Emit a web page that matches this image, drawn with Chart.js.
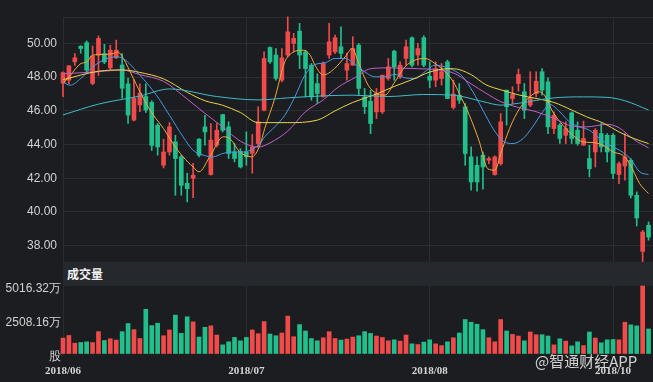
<!DOCTYPE html>
<html><head><meta charset="utf-8">
<script src="https://cdn.jsdelivr.net/npm/chart.js@4.4.1/dist/chart.umd.min.js"></script>
<style>
html,body{margin:0;padding:0;background:#1b1d21;width:653px;height:382px;overflow:hidden;}
#wrap{position:relative;width:653px;height:382px;}
#band{position:absolute;left:63px;top:262px;width:590px;height:24px;background:#25282d;}
#bandTitle{position:absolute;left:67px;top:266px;font:bold 12px "Noto Sans CJK SC",sans-serif;color:#f2f2f2;line-height:16px;}
#wm{position:absolute;left:535px;top:351px;font:15px "Noto Sans CJK SC",sans-serif;color:rgba(235,235,235,0.88);line-height:20px;}
#c1{position:absolute;left:0;top:0;}
#c2{position:absolute;left:0;top:262px;}
</style></head>
<body><div id="wrap">
<div id="band"></div><div id="bandTitle">成交量</div>
<canvas id="c1" width="653" height="262"></canvas>
<canvas id="c2" width="653" height="120"></canvas>
<div id="wm">@智通财经APP</div>
</div>
<script>
// ---- data ----
const xTickPositions = [0, 31, 62, 93];
const xTickLabels = ['2018/06', '2018/07', '2018/08', '2018/10'];
const priceTicks = [38, 40, 42, 44, 46, 48, 50];
const priceMin = 37.03, priceMax = 51.57;
const volumeTicks = [0, 2508.16, 5016.32];
const volumeUnitLabel = '股';

const openP = [47.64,47.82,48.91,49.84,50.05,47.63,49.30,49.40,48.55,49.15,48.72,47.60,45.45,46.35,46.85,46.50,45.15,42.77,43.56,44.16,
43.27,41.70,42.00,44.32,45.05,42.22,43.96,45.78,45.05,43.56,43.60,43.56,43.48,44.06,46.04,49.76,49.31,47.82,49.31,50.00,
50.73,49.50,48.71,47.62,46.83,49.31,49.50,49.80,48.42,48.71,49.90,46.83,46.57,45.94,45.94,47.92,49.54,48.02,49.11,50.34,
49.31,50.34,48.06,47.82,47.92,48.91,46.20,46.93,46.24,43.27,42.77,43.37,43.07,42.22,42.87,47.23,46.73,47.62,47.13,46.34,
47.03,48.32,47.72,44.95,45.15,44.55,45.88,44.85,43.96,43.17,43.56,44.65,44.55,44.55,42.22,42.73,43.07,40.99,37.66,39.21];
const highP = [48.32,48.70,49.40,49.86,50.15,49.85,50.45,49.95,49.90,50.20,49.40,47.95,47.85,47.60,47.60,46.60,45.25,44.32,45.30,44.55,
43.37,42.30,42.88,44.36,45.74,45.25,45.25,45.80,45.35,44.06,43.76,44.75,44.60,46.24,49.50,49.80,49.70,49.70,51.58,50.60,
51.19,49.60,48.81,48.20,48.91,51.19,50.50,50.99,49.41,50.40,50.00,47.33,47.23,47.33,48.12,49.11,49.60,48.91,50.20,50.40,
50.00,50.46,48.91,48.91,48.81,49.01,47.82,47.62,46.44,43.86,43.27,43.56,43.27,43.33,45.84,47.23,47.43,48.48,47.62,48.32,
48.32,48.51,47.96,45.94,45.25,45.35,45.94,45.35,45.39,43.96,44.95,45.25,44.65,44.65,42.97,44.65,43.17,41.19,38.91,39.41];
const lowP = [46.84,47.60,48.70,49.42,48.30,47.55,48.10,48.80,48.45,49.10,46.75,45.25,45.40,45.95,45.90,43.65,43.37,42.61,43.37,40.99,
40.99,40.60,40.85,43.27,43.96,42.18,43.86,44.75,43.17,42.97,42.61,42.77,42.30,43.86,46.00,48.81,47.82,47.72,49.20,49.50,
48.51,46.83,46.63,46.44,46.83,49.11,49.40,49.11,47.82,48.71,46.93,45.84,44.65,45.54,45.84,47.82,47.82,47.92,48.71,48.61,
48.71,48.61,47.37,47.43,47.53,46.73,46.10,46.44,42.77,41.29,41.23,41.35,42.87,42.18,42.77,45.15,46.44,47.17,45.54,46.24,
46.83,46.93,44.65,44.65,44.06,44.06,44.06,43.96,43.96,42.08,42.67,43.56,42.97,41.98,41.68,41.88,40.83,39.17,37.03,38.32];
const closeP = [48.27,48.67,49.15,49.70,48.42,49.25,50.30,48.90,49.60,49.60,47.34,45.75,46.75,47.05,46.05,43.95,43.86,43.56,45.05,43.17,
41.58,41.38,42.18,43.37,44.75,44.26,44.85,44.85,43.47,43.17,42.67,43.27,43.85,45.35,49.11,48.91,47.92,49.15,50.69,50.30,
49.31,48.51,46.83,47.03,48.81,50.10,50.34,49.41,48.81,49.70,47.33,46.24,45.25,47.03,48.12,48.61,48.61,48.71,49.80,48.71,
49.70,48.71,47.82,48.51,48.32,46.73,47.00,46.63,43.47,41.78,41.78,42.67,43.17,43.27,45.35,46.24,46.97,48.16,46.04,46.73,
47.76,47.23,45.05,45.74,44.36,44.95,44.36,44.06,44.36,42.57,44.85,43.86,43.56,42.28,42.87,43.27,40.99,39.64,38.81,38.51];
const volume = [1147,1343,769,815,868,815,1622,966,1094,996,1622,2225,1773,1117,3281,2074,2248,1320,1750,2851,
1494,2731,2353,1222,1946,2052,1373,641,868,1192,943,1192,1750,1471,2376,1448,1320,1524,2776,1245,
2150,1675,1117,943,1169,1622,1117,996,1071,1222,1320,1622,1494,1297,1192,943,1018,920,1373,717,
664,845,1018,717,588,868,1169,1524,2527,2323,2173,1773,1169,868,2527,1675,1418,1297,943,1599,
1396,1396,1297,641,1094,920,566,868,588,1599,1147,792,1018,1041,1018,2323,2127,2052,5016.32,1825];

const ma5 = [[0,47.62],[1.2,48.1],[3,48.8],[4,48.9],[5,49.3],[6.8,49.35],[8.5,49.4],[9.2,49.5],[10.2,49.11],[11.9,47.92],[13.6,46.73],[15.3,45.74],[17,44.95],[18.6,44.06],[20.3,43.27],[22,42.67],[23,42.38],[24.8,43.27],[27.1,44.46],[28.2,44.36],[29.9,43.56],[31.9,43.27],[33.3,43.96],[34.1,44.95],[35.8,46.73],[37.5,48.91],[38.6,49.41],[40.6,49.6],[41.8,49.3],[42.6,48.71],[44,48.13],[45.9,48.51],[47.7,49.21],[48.9,49.7],[49.9,48.91],[51.6,47.52],[53.2,47.0],[54.4,46.93],[56.1,47.72],[57.8,48.61],[59.5,49.01],[61.2,49.11],[62.9,48.81],[64.6,48.32],[66,47.72],[67,47.03],[68.7,45.74],[70.4,44.16],[71.8,42.57],[73,42.48],[74.1,43.56],[75.5,44.95],[77.2,46.14],[78.9,46.83],[80.5,47.13],[81.4,46.93],[82.8,45.94],[84.5,45.15],[86.2,44.55],[87.9,44.16],[89.6,44.12],[91.3,43.96],[93,43.56],[94.6,43.37],[95.8,42.87],[97.5,41.68],[99,41.09]];
const ma10 = [[0,47.72],[1.2,47.52],[3,47.92],[5,48.6],[7.4,49.1],[9,49.2],[10.2,49.1],[13,48.12],[15.8,46.93],[18,45.74],[20.3,44.46],[22,43.66],[23.7,43.37],[25.4,43.27],[27,43.47],[28.8,43.56],[30.5,43.56],[32.2,43.76],[33.3,44.06],[34.1,44.46],[35.8,45.05],[37.5,45.74],[39.2,46.83],[40.9,48.12],[42.6,48.75],[44.3,48.85],[46,49.11],[47.7,49.11],[49.4,48.75],[51,48.32],[52.7,48.02],[54.4,48.02],[56.1,48.16],[57.8,47.96],[59.5,47.92],[61.2,48.32],[62.9,48.71],[64.6,48.61],[66,48.42],[67.6,48.02],[69.3,47.13],[71,46.04],[72.7,44.95],[74.4,44.2],[76.1,44.06],[77.8,44.36],[79.4,45.05],[81.1,45.94],[82.3,46.38],[84,45.94],[85.6,45.35],[87.3,45.05],[89,44.85],[90.7,44.36],[92.4,43.96],[94.1,43.66],[95.9,43.17],[97.5,42.38],[99,42.22]];
const ma20 = [[0,48.2],[5,48.3],[10,48.42],[13,48.15],[17,47.75],[21,46.7],[24,45.85],[27,45.05],[30,44.2],[33,43.85],[35,44.1],[38,44.8],[41,45.95],[44,46.65],[46.5,47.4],[49.5,48.0],[52,48.5],[55,48.55],[60,48.5],[63,48.45],[66,48.25],[69,47.6],[71.5,47.05],[74,46.55],[77,46.2],[80,45.95],[83,45.55],[86,45.1],[88.5,45.05],[92,45.2],[94,45.0],[96.5,44.3],[99,43.8]];
const ma30 = [[0,47.85],[6,48.35],[10,48.43],[13,48.28],[17,47.9],[21,47.1],[24,46.6],[27,46.33],[30,45.9],[33,45.3],[38,45.3],[43,45.45],[46,46.0],[49,46.5],[53,47.0],[56,47.45],[59,47.85],[62,48.3],[65,48.5],[66,48.5],[69,48.15],[71.5,47.55],[74,47.25],[77,46.95],[80.5,46.7],[83,46.5],[86,46.05],[88.5,45.65],[91.5,45.25],[94,44.75],[96.5,44.36],[99,44.06]];
const ma60 = [[0,45.76],[6,46.4],[13,46.88],[18,47.3],[26,46.85],[33,46.65],[38,46.77],[44,46.89],[49,46.93],[55,46.85],[61,46.97],[66,46.93],[71,46.55],[74,46.34],[77,46.45],[83,46.77],[88,46.83],[92,46.8],[95,46.6],[99,46.05]];

// ---- styles ----
const UP = '#f04a4a', DOWN = '#21bf8b', GRID = '#2a2d33', LABEL = '#d2d2d2';
const MA_COLORS = {ma5:'#f3a83c', ma10:'#4a98e6', ma20:'#c260c9', ma30:'#e9d54a', ma60:'#3fbccb'};
const xMax = 99.75;

const idx = closeP.map((_, i) => i);
const candleColor = idx.map(i => closeP[i] >= openP[i] ? UP : DOWN);

function fixX(s){ s.ticks = xTickPositions.map(v => ({value: v})); }
function lineDs(arr, color){
  return {type:'line', data: arr.map(p => ({x:p[0], y:p[1]})), borderColor: color, borderWidth: 1,
    pointRadius: 0, cubicInterpolationMode: 'monotone', fill: false, order: 1};
}

new Chart(document.getElementById('c1'), {
  type: 'bar',
  data: { datasets: [
    {data: idx.map(i => ({x:i, y:[lowP[i], highP[i]]})), backgroundColor: candleColor, barThickness: 1,
     grouped: false, order: 3, clip: false, borderWidth: 0},
    {data: idx.map(i => ({x:i, y:[openP[i], closeP[i]]})), backgroundColor: candleColor, barThickness: 4,
     grouped: false, order: 2, clip: false, borderWidth: 0, minBarLength: 1},
    lineDs(ma60, MA_COLORS.ma60), lineDs(ma30, MA_COLORS.ma30), lineDs(ma20, MA_COLORS.ma20),
    lineDs(ma10, MA_COLORS.ma10), lineDs(ma5, MA_COLORS.ma5)
  ]},
  options: {
    responsive: false, animation: false, events: [],
    layout: {padding: {top: 17, right: 0, bottom: 0, left: 0}},
    plugins: {legend: {display: false}, tooltip: {enabled: false}},
    scales: {
      x: {type: 'linear', min: 0, max: xMax, offset: false,
        grid: {color: GRID, drawTicks: false, offset: false}, border: {display: false},
        ticks: {display: false},
        afterBuildTicks: fixX,
        afterFit: s => { s.height = 0; s.paddingLeft = 0; s.paddingRight = 0; }},
      y: {type: 'linear', min: priceMin, max: priceMax, beginAtZero: false,
        grid: {color: GRID, drawTicks: false}, border: {display: true, color: GRID},
        ticks: {color: LABEL, padding: 6, font: {size: 12, family: 'Liberation Sans, Arial'},
          callback: v => priceTicks.includes(v) ? v.toFixed(2) : ''},
        afterBuildTicks: s => { s.ticks = priceTicks.concat([priceMax]).map(v => ({value: v})); },
        afterFit: s => { s.width = 63; s.paddingTop = 0; s.paddingBottom = 0; }}
    }
  }
});

new Chart(document.getElementById('c2'), {
  type: 'bar',
  data: { datasets: [
    {data: idx.map(i => ({x:i, y:volume[i]})), backgroundColor: candleColor, barThickness: 4,
     grouped: false, clip: false, borderWidth: 0}
  ]},
  options: {
    responsive: false, animation: false, events: [],
    layout: {padding: {top: 24, right: 0, bottom: 0, left: 0}},
    plugins: {legend: {display: false}, tooltip: {enabled: false}},
    scales: {
      x: {type: 'linear', min: 0, max: xMax, offset: false,
        grid: {color: GRID, drawTicks: false, offset: false}, border: {display: false},
        ticks: {color: '#d6d6d6', padding: 11, maxRotation: 0, autoSkip: false,
          font: {size: 11, weight: 'bold', family: 'Liberation Serif, Times New Roman'},
          callback: v => { const k = xTickPositions.indexOf(v); return k >= 0 ? xTickLabels[k] : ''; }},
        afterBuildTicks: fixX,
        afterFit: s => { s.height = 28.5; s.paddingLeft = 0; s.paddingRight = 0; }},
      y: {type: 'linear', min: 0, max: volumeTicks[2], beginAtZero: true,
        grid: {display: false, drawTicks: false}, border: {display: false},
        ticks: {color: LABEL, padding: 2, labelOffset: 3, font: {size: 12, family: 'Liberation Sans, Arial'},
          callback: v => v === 0 ? volumeUnitLabel : v.toFixed(2) + '万'},
        afterBuildTicks: s => { s.ticks = volumeTicks.map(v => ({value: v})); },
        afterFit: s => { s.width = 63; s.paddingTop = 0; s.paddingBottom = 0; }}
    }
  }
});
</script>
</body></html>
